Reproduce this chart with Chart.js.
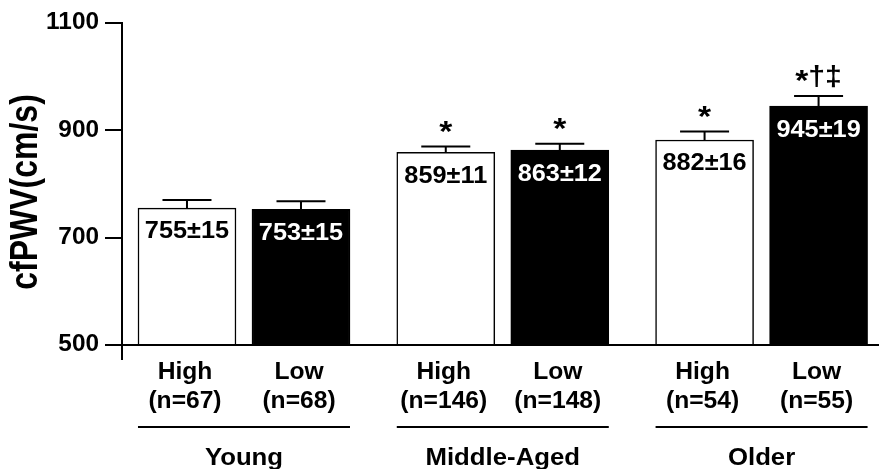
<!DOCTYPE html>
<html>
<head>
<meta charset="utf-8">
<script src="https://cdn.jsdelivr.net/npm/chart.js@4"></script>
<style>
  html, body { margin: 0; padding: 0; background: #fff; }
  canvas { display: block; }
</style>
</head>
<body>
<canvas id="chart" width="879" height="469"></canvas>
<script>
// Age groups and the two subgroups compared within each one
const groups = ['Young', 'Middle-Aged', 'Older'];
const subgroups = ['High', 'Low'];

// cfPWV (cm/s), mean and standard error, per age group
const highMean = [755, 859, 882];
const highSE   = [15, 11, 16];
const highN    = [67, 146, 54];
const lowMean  = [753, 863, 945];
const lowSE    = [15, 12, 19];
const lowN     = [68, 148, 55];

// Significance marks printed above each bar
const highMarks = ['', '*', '*'];
const lowMarks  = ['', '*', '*\u2020\u2021'];

// y axis ticks
const yTicks = [500, 700, 900, 1100];

// Layout: distance (in x units) between the first bars of neighbouring groups
const GROUP_STEP = 2.27;
const FONT = '"Liberation Sans", Arial, sans-serif';

function points(means, offset) {
  return means.map((m, g) => ({ x: g * GROUP_STEP + offset, y: m }));
}

const series = [
  { label: subgroups[0], mean: highMean, se: highSE, n: highN, marks: highMarks, offset: 0, fill: '#ffffff', text: '#000000' },
  { label: subgroups[1], mean: lowMean,  se: lowSE,  n: lowN,  marks: lowMarks,  offset: 1, fill: '#000000', text: '#ffffff' }
];

// Draw bold text, optionally widened horizontally
function wideText(ctx, str, x, y, size, color, stretch, align, baseline) {
  ctx.save();
  ctx.translate(x, y);
  ctx.scale(stretch, 1);
  ctx.font = 'bold ' + size + 'px ' + FONT;
  ctx.fillStyle = color;
  ctx.textAlign = align || 'center';
  ctx.textBaseline = baseline || 'middle';
  ctx.fillText(str, 0, 0);
  ctx.restore();
}

// Significance marks: asterisk, then daggers set slightly lower
function drawMarks(ctx, str, cx, cap) {
  const SX = 1.12;
  const parts = Array.from(str).map(ch => {
    const star = ch === '*';
    const size = star ? 30 : 27;
    ctx.font = 'bold ' + size + 'px ' + FONT;
    return { ch, size, base: star ? cap - 5.5 : cap - 11, w: ctx.measureText(ch).width * SX };
  });
  const total = parts.reduce((a, p) => a + p.w, 0);
  let x = cx - total / 2;
  parts.forEach(p => {
    wideText(ctx, p.ch, x, p.base, p.size, '#000', SX, 'left', 'alphabetic');
    x += p.w;
  });
}

// Error bars, value labels, significance marks, tick labels and grouped category labels
const annotations = {
  id: 'annotations',
  afterDatasetsDraw(chart) {
    const { ctx, chartArea } = chart;
    const xs = chart.scales.x, ys = chart.scales.y;
    const half = 49;
    ctx.save();
    ctx.strokeStyle = '#000';
    ctx.lineCap = 'butt';

    // axis extensions: baseline to the right edge, y axis a bit below the baseline
    ctx.lineWidth = 2;
    ctx.beginPath();
    ctx.moveTo(chartArea.left, chartArea.bottom);
    ctx.lineTo(chart.width, chartArea.bottom);
    ctx.moveTo(chartArea.left, chartArea.bottom);
    ctx.lineTo(chartArea.left, chartArea.bottom + 15);
    ctx.stroke();

    // y tick labels
    yTicks.forEach(v => {
      wideText(ctx, String(v), chartArea.left - 23, ys.getPixelForValue(v), 23, '#000', 1.06, 'right');
    });

    series.forEach(s => {
      s.mean.forEach((m, g) => {
        const cx = xs.getPixelForValue(g * GROUP_STEP + s.offset);
        const top = ys.getPixelForValue(m);
        const cap = ys.getPixelForValue(m + s.se[g]);

        // upper error bar
        ctx.strokeStyle = '#000';
        ctx.lineWidth = 2;
        ctx.beginPath();
        ctx.moveTo(cx, top);
        ctx.lineTo(cx, cap);
        ctx.moveTo(cx - 24.5, cap);
        ctx.lineTo(cx + 24.5, cap);
        ctx.stroke();

        // mean ± SE inside the bar
        wideText(ctx, m + '\u00b1' + s.se[g], cx, top + 24, 23, s.text, 1.1);

        // significance marks
        if (s.marks[g]) drawMarks(ctx, s.marks[g], cx, cap);

        // subgroup name and sample size
        wideText(ctx, s.label, cx - 2, 373, 23, '#000', 1.07);
        wideText(ctx, '(n=' + s.n[g] + ')', cx - 2, 402, 23, '#000', 1.07);
      });
    });

    // group underline and group name
    groups.forEach((name, g) => {
      const x1 = xs.getPixelForValue(g * GROUP_STEP) - half;
      const x2 = xs.getPixelForValue(g * GROUP_STEP + 1) + half;
      ctx.strokeStyle = '#000';
      ctx.lineWidth = 2;
      ctx.beginPath();
      ctx.moveTo(x1, 427);
      ctx.lineTo(x2, 427);
      ctx.stroke();
      wideText(ctx, name, (x1 + x2) / 2, 459, 23, '#000', 1.12);
    });

    // y axis title
    ctx.save();
    ctx.translate(26, 192);
    ctx.rotate(-Math.PI / 2);
    ctx.scale(1, 1.2);
    ctx.font = 'bold 32px ' + FONT;
    ctx.textAlign = 'center';
    ctx.textBaseline = 'middle';
    ctx.fillStyle = '#000';
    ctx.fillText('cfPWV(cm/s)', 0, 0);
    ctx.restore();

    ctx.restore();
  }
};

new Chart(document.getElementById('chart'), {
  type: 'bar',
  data: {
    datasets: series.map(s => ({
      label: s.label,
      data: points(s.mean, s.offset),
      backgroundColor: s.fill,
      borderColor: '#000',
      borderWidth: 1.5,
      barThickness: 98,
      grouped: false
    }))
  },
  options: {
    responsive: false,
    devicePixelRatio: 1,
    animation: false,
    layout: { padding: { top: 23, bottom: 124, left: 0, right: 0 } },
    plugins: { legend: { display: false }, tooltip: { enabled: false } },
    scales: {
      x: {
        type: 'linear',
        min: -0.57,
        max: 6.07,
        offset: false,
        display: false
      },
      y: {
        min: yTicks[0],
        max: yTicks[yTicks.length - 1],
        afterBuildTicks: scale => { scale.ticks = yTicks.map(v => ({ value: v })); },
        afterFit: scale => { scale.width = 122; },
        ticks: { display: false },
        grid: {
          drawOnChartArea: false,
          drawTicks: true,
          tickLength: 17,
          color: '#000',
          lineWidth: 2
        },
        border: { display: true, color: '#000', width: 2 }
      }
    }
  },
  plugins: [annotations]
});
</script>
</body>
</html>
